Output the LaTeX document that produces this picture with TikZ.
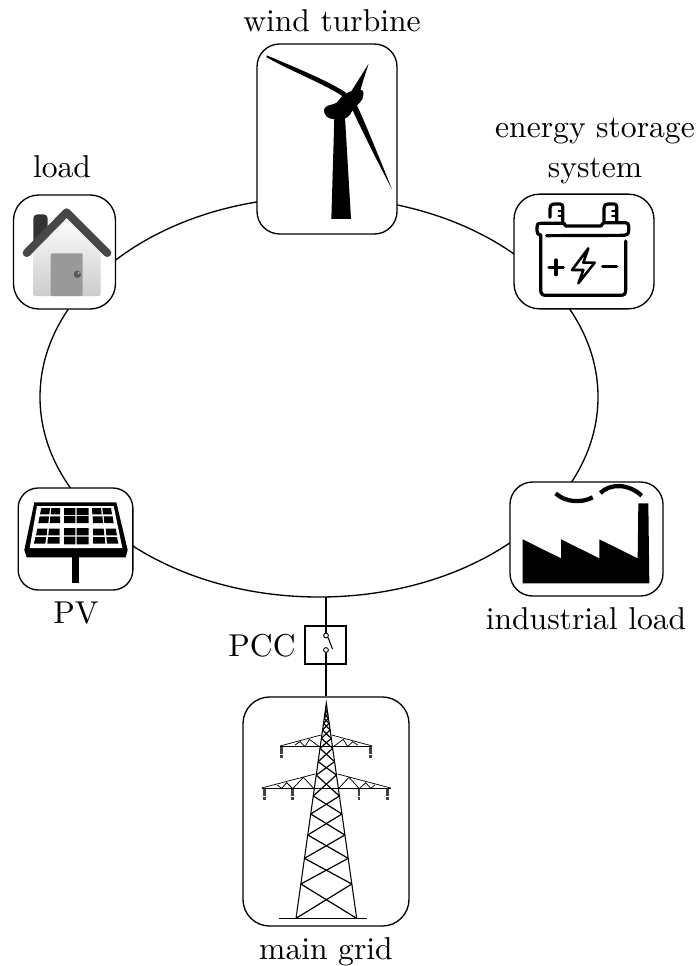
\documentclass[tikz,border=0pt]{standalone}
\newcommand{\lbltext}[1]{\scalebox{2.37}{\fontsize{10}{12}\selectfont #1}}
\begin{document}
\begin{tikzpicture}[x=0.75pt,y=-0.75pt,
  iconbox/.style={draw=black,line width=1pt,fill=white,inner sep=0pt},
  lbl/.style={anchor=base,inner sep=0pt},
  zoomed/.style={x=0.25pt,y=-0.25pt},
  batt/.style={line width=2.4pt,line cap=round,line join=round},
  brace/.style={line width=0.9pt},
  chord/.style={line width=0.55pt},
  insul/.style={line width=2pt,black!75,dash pattern=on 0.6pt off 0.25pt}]
\useasboundingbox (0,0) rectangle (696,966);
\draw[line width=1pt] (319,397) ellipse [x radius=279,y radius=200];
\coordinate (ringb) at (326,597);
% boxes
\node[iconbox,rounded corners=17pt,minimum width=105pt,minimum height=142.5pt] (wind) at (327,139) {};
\node[iconbox,rounded corners=19pt,minimum width=105pt,minimum height=86pt] (storage) at (584,251.5) {};
\node[iconbox,rounded corners=19pt,minimum width=76.5pt,minimum height=85.5pt] (load) at (64.5,252) {};
\node[iconbox,rounded corners=15pt,minimum width=86pt,minimum height=76.5pt] (pv) at (75.5,539) {};
\node[iconbox,rounded corners=17pt,minimum width=114.8pt,minimum height=85.5pt] (industrial) at (586.5,539) {};
\node[iconbox,rounded corners=20pt,minimum width=124.5pt,minimum height=171.8pt] (grid) at (326,811.5) {};
\node[iconbox,minimum width=30.8pt,minimum height=28.5pt] (sw) at (325.5,645) {};
% labels
\node[lbl] (t1) at (332,32) {\lbltext{wind turbine}};
\node[lbl] (t2) at (595,138) {\lbltext{energy storage}};
\node[lbl] (t3) at (595,178) {\lbltext{system}};
\node[lbl] (t4) at (62,178) {\lbltext{load}};
\node[lbl] (t5) at (76,623) {\lbltext{PV}};
\node[lbl] (t6) at (586,629) {\lbltext{industrial load}};
\node[lbl] (t7) at (262,656) {\lbltext{PCC}};
\node[lbl] (t8) at (326,959) {\lbltext{main grid}};
% switch
\node[circle,draw,line width=0.7pt,fill=white,inner sep=0pt,minimum size=3.6pt] (swa) at (326,635.5) {};
\node[circle,draw,line width=0.7pt,fill=white,inner sep=0pt,minimum size=3.6pt] (swb) at (326,650) {};
\draw[line width=1pt] (ringb) -- (swa);
\draw[line width=1pt] (swb) -- (grid.north);
\draw[line width=0.8pt] (swa.south east) -- (332.5,649);
% wind turbine
\begin{scope}[shift={(240,30)},zoomed]
\fill (283,262) -- (315,262) -- (333,567) -- (274,567) -- cycle;
\fill (80,76) .. controls (160,110) and (260,150) .. (318,188) -- (310,200) .. controls (250,160) and (170,132) .. (80,82) -- cycle;
\fill (386,101) .. controls (375,135) and (365,165) .. (360,185) -- (330,190) -- cycle;
\fill (352,228) .. controls (380,290) and (425,400) .. (456,478) .. controls (420,410) and (370,310) .. (342,250) -- (336,235) -- cycle;
\fill plot[smooth cycle,tension=0.6] coordinates {(252,240) (262,228) (290,218) (310,195) (345,180) (368,182) (368,205) (350,228) (335,245) (322,262) (285,268) (260,260)};
\end{scope}
% battery
\begin{scope}[shift={(500,180)},zoomed]
\draw[batt] (192,130) -- (197,138) -- (303,138) -- (310,128) -- (376,128) .. controls (384,128) and (386,132) .. (386,140) -- (386,152) .. controls (386,162) and (380,166) .. (372,166) -- (140,167);
\draw[batt] (192,130) -- (122,130) .. controls (112,130) and (111,134) .. (111,142) -- (111,152) .. controls (111,160) and (114,165) .. (122,165) -- (122,330) .. controls (122,342) and (128,346) .. (138,346) -- (362,346) .. controls (372,346) and (377,342) .. (377,330) -- (377,183);
\draw[batt] (150,112) -- (150,85) .. controls (150,76) and (154,72) .. (162,72) -- (180,72) .. controls (186,72) and (188,76) .. (188,80) -- (188,125);
\draw[batt] (312,122) -- (312,85) .. controls (312,76) and (316,72) .. (324,72) -- (342,72) .. controls (348,72) and (350,76) .. (350,80) -- (350,122);
\draw[batt,line width=1.4pt] (176,92) -- (188,92) (176,108) -- (188,108) (336,92) -- (350,92) (336,108) -- (350,108);
\draw[batt] (147,262) -- (190,262) (168,240) -- (168,284) (308,260) -- (350,260);
\draw[batt,line width=1.9pt] (265,205) -- (216,270) -- (250,270) -- (235,310) -- (284,248) -- (250,248) -- cycle;
\end{scope}
% house
\begin{scope}[shift={(0,185)},zoomed]
\fill[black!80,rounded corners=3pt] (100,200) -- (100,88) -- (143,88) -- (143,200) -- cycle;
\fill[white] (143,140) -- (143,200) -- (100,200) -- cycle;
\shade[top color=white,bottom color=black!20,rounded corners=1.5pt] (100,190) -- (200,92) -- (302,190) -- (302,333) -- (100,333) -- cycle;
\fill[black!40,rounded corners=1pt] (152,333) -- (152,205) -- (248,205) -- (248,333) -- cycle;
\fill[black!65] (232,268) circle [radius=11];
\fill[black!25] (236,264) circle [radius=3];
\draw[black!72,line width=6pt,line cap=round,line join=round] (80,204) -- (200,82) -- (322,204);
\end{scope}
% PV
\begin{scope}[shift={(5,480)},zoomed]
\fill (88,67) -- (334,67) -- (368,210) -- (362,232) -- (65,232) -- (58,210) -- cycle;
\fill[white] (96,78) -- (326,78) -- (352,204) -- (74,204) -- cycle;
\fill (200,232) rectangle (223,308);
\fill
 (109,84) -- (135,84) -- (133,103) -- (105,103) -- cycle
 (139,84) -- (165,84) -- (165,103) -- (137,103) -- cycle
 (104,109) -- (132,109) -- (130,129) -- (100,129) -- cycle
 (136,109) -- (165,109) -- (165,129) -- (134,129) -- cycle
 (97,146) -- (127,146) -- (125,166) -- (93,166) -- cycle
 (132,146) -- (164,146) -- (164,166) -- (130,166) -- cycle
 (91,171) -- (123,171) -- (121,191) -- (87,191) -- cycle
 (129,171) -- (164,171) -- (164,191) -- (127,191) -- cycle
 (177,84) rectangle (211,105) (215,84) rectangle (251,105)
 (177,108) rectangle (211,129) (215,108) rectangle (251,129)
 (177,144) rectangle (211,166) (215,144) rectangle (251,166)
 (177,170) rectangle (211,193) (215,170) rectangle (251,193)
 (261,84) -- (288,84) -- (290,103) -- (262,103) -- cycle
 (292,84) -- (318,84) -- (321,103) -- (294,103) -- cycle
 (263,109) -- (292,109) -- (294,129) -- (264,129) -- cycle
 (296,109) -- (323,109) -- (326,129) -- (298,129) -- cycle
 (264,146) -- (296,146) -- (298,166) -- (264,166) -- cycle
 (302,146) -- (332,146) -- (336,166) -- (304,166) -- cycle
 (264,171) -- (299,171) -- (301,191) -- (264,191) -- cycle
 (304,171) -- (336,171) -- (340,191) -- (306,191) -- cycle;
\end{scope}
% factory
\begin{scope}[shift={(500,470)},zoomed]
\fill (68,208) -- (183,265) -- (183,208) -- (298,265) -- (298,208) -- (413,265) -- (415,100) -- (445,100) -- (448,340) -- (68,340) -- cycle;
\draw[line width=3.2pt] (167,70) .. controls (195,97) and (245,100) .. (278,82);
\draw[line width=3.2pt] (301,69) .. controls (330,40) and (385,40) .. (425,77);
\end{scope}
% pylon
\begin{scope}[shift={(240,690)},zoomed]
\draw[line width=0.8pt] (168,685) -- (259,40) -- (350,685);
\draw[line width=0.8pt] (118,685) -- (380,685);
\foreach \a/\b in {685/582,582/505,505/435,435/372,372/318,318/255,255/215,215/175,175/145,145/120,120/100,100/85,85/72,72/60}{
  \pgfmathsetmacro{\wa}{0.14109*(\a-40)}
  \pgfmathsetmacro{\wb}{0.14109*(\b-40)}
  \draw[brace] ({259-\wa},\a) -- ({259+\wb},\b);
  \draw[brace] ({259+\wa},\a) -- ({259-\wb},\b);
}
\draw[line width=0.8pt] (120,170) -- (397,170);
\draw[chord] (120,168) -- (243,135) (397,168) -- (275,135);
\draw[chord] (165,165) -- (180,155) -- (195,170) -- (208,148) -- (238,170);
\draw[chord] (353,165) -- (338,155) -- (323,170) -- (310,148) -- (280,170);
\draw[line width=0.8pt] (65,296) -- (452,296);
\draw[chord] (65,294) -- (225,252) (452,294) -- (293,252);
\draw[chord] (112,285) -- (125,295) -- (140,278) -- (158,296) -- (190,262) -- (222,296);
\draw[chord] (405,285) -- (392,295) -- (377,278) -- (358,296) -- (327,262) -- (295,296);
\draw[insul] (125,170) -- (125,203) (392,170) -- (392,203) (73,296) -- (73,328) (158,296) -- (158,328) (357,296) -- (357,328) (442,296) -- (442,328);
\end{scope}
\end{tikzpicture}
\end{document}
